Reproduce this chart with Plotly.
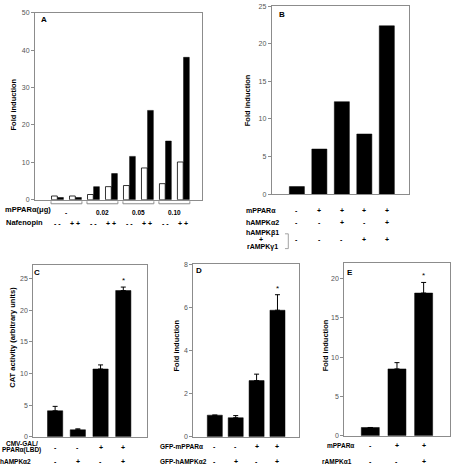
import plotly.graph_objects as go

W, H = 451, 469

# ---------------- data ----------------
# Panel A
a_groups = ["-", "0.02", "0.05", "0.10"]
a_nafenopin = ["- -", "+ +", "- -", "+ +", "- -", "+ +", "- -", "+ +"]
a_white = [1.0, 1.0, 1.4, 3.5, 3.8, 8.5, 4.3, 10.1]
a_black = [0.6, 0.6, 3.5, 7.0, 11.6, 23.9, 15.7, 38.1]

# Panel B
b_values = [1.0, 6.0, 12.3, 8.0, 22.4]
b_rows = ["mPPARα", "hAMPKα2", "hAMPKβ1", "+", "rAMPKγ1"]
b_signs = [["-", "+", "+", "+", "+"],
           ["-", "-", "+", "-", "+"],
           ["-", "-", "-", "+", "+"]]

# Panel C
c_values = [4.1, 1.1, 10.7, 23.1]
c_err = [0.7, 0.15, 0.65, 0.55]
c_star = [False, False, False, True]
c_rows = ["CMV-GAL/", "PPARα(LBD)", "hAMPKα2"]
c_signs = [["-", "-", "+", "+"], ["-", "+", "-", "+"]]

# Panel D
d_values = [1.0, 0.88, 2.6, 5.86]
d_err = [0.0, 0.1, 0.3, 0.72]
d_star = [False, False, False, True]
d_rows = ["GFP-mPPARα", "GFP-hAMPKα2"]
d_signs = [["-", "-", "+", "+"], ["-", "+", "-", "+"]]

# Panel E
e_values = [1.05, 8.5, 18.15]
e_err = [0.0, 0.8, 1.35]
e_star = [False, False, True]
e_rows = ["mPPARα", "rAMPKα1"]
e_signs = [["-", "+", "+"], ["-", "-", "+"]]

# ---------------- helpers ----------------
def xp(px):
    return px / W

def yp(py):
    return 1 - py / H

FONT = "Liberation Sans, Arial, sans-serif"
LINE = "#8c8c8c"
TICKF = dict(family=FONT, size=7, color="#555555")

fig = go.Figure()

panels = {
    "A": ((35, 201.7), (9, 198.7), (-1.25, 8.02), (0, 50), 10),
    "B": ((271.7, 409.3), (2.3, 193), (-1.12, 5.0), (0, 25), 5),
    "C": ((33.3, 146.7), (265, 439.3), (-0.96, 4.03), (0, 27.13), 5),
    "D": ((193.3, 299), (264, 439.3), (-1.03, 4.03), (0, 8), 2),
    "E": ((344.3, 450.3), (262.7, 438.3), (-0.975, 3.0), (0, 22), 5),
}
axid = {"A": "", "B": "2", "C": "3", "D": "4", "E": "5"}

layout_axes = {}
for name, (xd, yd, xr, yr, dt) in panels.items():
    k = axid[name]
    layout_axes["xaxis" + k] = dict(
        domain=[xp(xd[0]), xp(xd[1])], range=list(xr), anchor="y" + k,
        showline=True, linecolor=LINE, linewidth=1, mirror=True,
        showticklabels=False, ticks="", showgrid=False, zeroline=False,
        fixedrange=True)
    layout_axes["yaxis" + k] = dict(
        domain=[yp(yd[1]), yp(yd[0])], range=list(yr), anchor="x" + k,
        showline=True, linecolor=LINE, linewidth=1, mirror=True,
        ticks="outside", ticklen=3, tickcolor=LINE, dtick=dt,
        tickfont=TICKF, showgrid=False, zeroline=False, fixedrange=True)

# Panel A bars
idx_a = list(range(len(a_white)))
fig.add_trace(go.Bar(x=idx_a, y=a_white, width=0.32, offset=-0.33,
                     marker=dict(color="white", line=dict(color="black", width=0.8)),
                     xaxis="x", yaxis="y", showlegend=False))
fig.add_trace(go.Bar(x=idx_a, y=a_black, width=0.32, offset=0.01,
                     marker=dict(color="black", line=dict(color="black", width=0.5)),
                     xaxis="x", yaxis="y", showlegend=False))

# Panel B bars
fig.add_trace(go.Bar(x=list(range(len(b_values))), y=b_values, width=0.67,
                     marker=dict(color="black", line=dict(color="black", width=0.5)),
                     xaxis="x2", yaxis="y2", showlegend=False))

def err_bar(vals, errs, widthfrac, k):
    fig.add_trace(go.Bar(
        x=list(range(len(vals))), y=vals, width=widthfrac,
        marker=dict(color="black", line=dict(color="black", width=0.5)),
        error_y=dict(type="data", symmetric=False, array=errs,
                     arrayminus=[0] * len(errs), color="black",
                     thickness=1, width=2.5),
        xaxis="x" + k, yaxis="y" + k, showlegend=False))

err_bar(c_values, c_err, 0.67, "3")
err_bar(d_values, d_err, 0.72, "4")
err_bar(e_values, e_err, 0.675, "5")

ann = []
shapes = []

def text(x, y, s, xref="paper", size=7.5, xanchor="center", bold=True,
         align="center", color="black", textangle=0):
    ann.append(dict(x=x, y=y, xref=xref, yref="paper", text=("<b>%s</b>" % s) if bold else s,
                    showarrow=False, xanchor=xanchor, yanchor="middle",
                    font=dict(family=FONT, size=size, color=color),
                    align=align, textangle=textangle))

# panel letters
for name, (lx, ly) in {"A": (43.5, 16), "B": (281.5, 10.5), "C": (37, 272.5),
                       "D": (198.5, 271), "E": (350, 272.5)}.items():
    text(xp(lx), yp(ly), name, size=8, xanchor="center")

# y titles
for (lx, ly, s) in [(13, 102, "Fold induction"), (247.7, 98, "Fold induction"),
                    (12.7, 338, "CAT activity (arbitrary units)"),
                    (176.7, 347, "Fold induction"), (325.5, 347, "Fold induction")]:
    text(xp(lx), yp(ly), s, size=7.5, textangle=-90)

# Panel A tables
text(xp(53), yp(208.8), "mPPARα(μg)", xanchor="right", size=7.5)
text(xp(45), yp(222.3), "Nafenopin", xanchor="right", size=7.5)
for g, lab in enumerate(a_groups):
    c = 2 * g + 0.5
    text(c, yp(211.8), lab, xref="x", size=6.5)
    l, r = c - 0.86, c + 0.86
    shapes.append(dict(type="path", xref="x", yref="paper",
                       path="M %f,%f L %f,%f L %f,%f L %f,%f" % (
                           l, yp(200.3), l, yp(202.8), r, yp(202.8), r, yp(200.3)),
                       line=dict(color=LINE, width=1)))
for i, s in enumerate(a_nafenopin):
    text(i, yp(222.5), s, xref="x", size=7)

# Panel B table
text(xp(244), yp(210), b_rows[0], xanchor="left", size=7)
text(xp(244), yp(221.7), b_rows[1], xanchor="left", size=7)
text(xp(244), yp(232.8), b_rows[2], xanchor="left", size=7)
text(xp(260.5), yp(239.3), b_rows[3], size=7)
text(xp(245), yp(246.5), b_rows[4], xanchor="left", size=7)
shapes.append(dict(type="path", xref="paper", yref="paper",
                   path="M %f,%f L %f,%f L %f,%f L %f,%f" % (
                       xp(285), yp(233.3), xp(288.3), yp(233.3),
                       xp(288.3), yp(248.3), xp(285), yp(248.3)),
                   line=dict(color=LINE, width=0.8)))
b_row_y = [210, 221.7, 239.5]
for r, row in enumerate(b_signs):
    for i, s in enumerate(row):
        text(i, yp(b_row_y[r]), s, xref="x2", size=7)

# Panel C table
text(xp(21.5), yp(445.7), c_rows[0], size=6.5)
text(xp(21.5), yp(452.3), c_rows[1], size=6.5)
text(xp(33), yp(464.5), c_rows[2], xanchor="right", size=6.5)
for r, row in enumerate(c_signs):
    for i, s in enumerate(row):
        text(i, yp([450, 464.5][r]), s, xref="x3", size=7)

# Panel D table
text(xp(157.5), yp(449.5), d_rows[0], xanchor="left", size=6.5)
text(xp(157.5), yp(464.5), d_rows[1], xanchor="left", size=6.5)
for r, row in enumerate(d_signs):
    for i, s in enumerate(row):
        text(i, yp([449.5, 464.5][r]), s, xref="x4", size=7)

# Panel E table
text(xp(340), yp(448.5), e_rows[0], size=6.5)
text(xp(337), yp(464.5), e_rows[1], size=6.5)
for r, row in enumerate(e_signs):
    for i, s in enumerate(row):
        text(i, yp([448.5, 464.5][r]), s, xref="x5", size=7)

# asterisks
for k, vals, errs, stars in [("3", c_values, c_err, c_star),
                              ("4", d_values, d_err, d_star),
                              ("5", e_values, e_err, e_star)]:
    for i, st in enumerate(stars):
        if st:
            ann.append(dict(x=i, y=vals[i] + errs[i], xref="x" + k, yref="y" + k,
                            text="*", showarrow=False, yanchor="bottom", yshift=0,
                            font=dict(family=FONT, size=8, color="black")))

fig.update_layout(
    width=W, height=H, margin=dict(l=0, r=0, t=0, b=0),
    paper_bgcolor="white", plot_bgcolor="white",
    barmode="overlay", showlegend=False,
    annotations=ann, shapes=shapes, **layout_axes)

fig.write_html("out.html", config={"displayModeBar": False},
               post_script="document.body.style.margin='0';document.body.style.overflow='hidden';")
